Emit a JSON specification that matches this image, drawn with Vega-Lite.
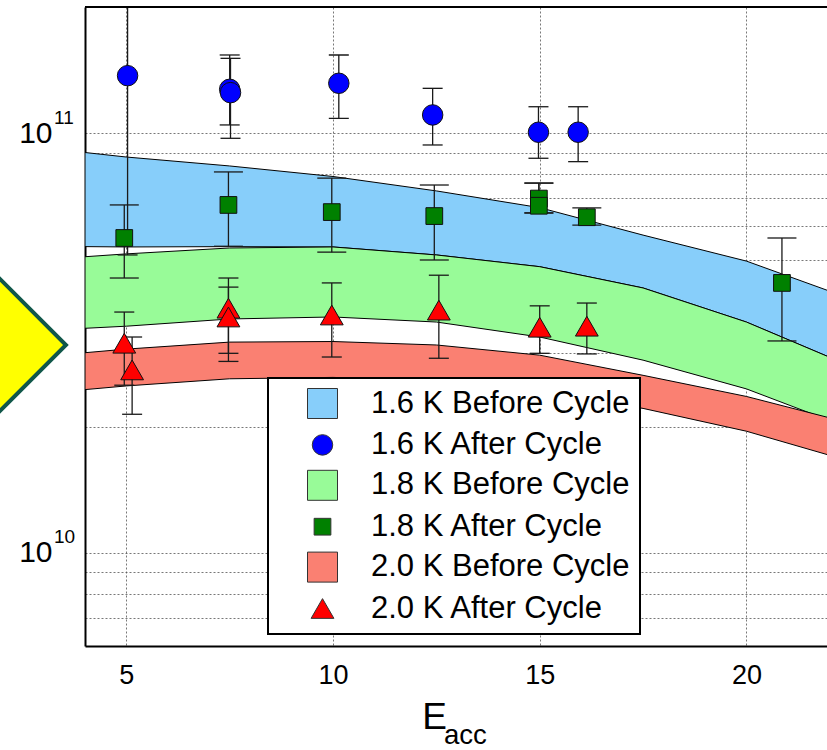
{
  "$schema": "https://vega.github.io/schema/vega-lite/v6.json",
  "width": 742,
  "height": 639,
  "autosize": "none",
  "padding": {"left": 85, "top": 7, "right": 0, "bottom": 104},
  "background": "white",
  "config": {
    "font": "Liberation Sans",
    "view": {"stroke": null},
    "axis": {"zindex": 1, "gridColor": "#555555", "gridDash": [2, 2], "gridWidth": 0.8, "gridOpacity": 1, "domainColor": "black", "domainWidth": 2, "ticks": false, "labelColor": "black", "labelFont": "Liberation Sans", "labelOverlap": false, "labelFlush": false},
    "axisX": {"labelFontSize": 27, "labelPadding": 16},
    "axisY": {"labelFontSize": 30, "labelPadding": 33},
    "legend": {"padding": 10, "strokeColor": "black", "strokeWidth": 2, "fillColor": "white", "labelFont": "Liberation Sans", "labelFontSize": 31, "labelColor": "black", "labelLimit": 600, "rowPadding": 7.4, "symbolOffset": 29, "labelOffset": 33, "zindex": 2, "symbolStrokeColor": "#333333", "symbolStrokeWidth": 1, "symbolOpacity": 1}
  },
  "datasets": {
    "bands": [
      {"series": "1.6 K Before Cycle", "x": 4, "lo": 5.37e10, "hi": 9.00e10},
      {"series": "1.6 K Before Cycle", "x": 5, "lo": 5.36e10, "hi": 8.78e10},
      {"series": "1.6 K Before Cycle", "x": 7.5, "lo": 5.37e10, "hi": 8.36e10},
      {"series": "1.6 K Before Cycle", "x": 10, "lo": 5.36e10, "hi": 7.89e10},
      {"series": "1.6 K Before Cycle", "x": 12.5, "lo": 5.13e10, "hi": 7.29e10},
      {"series": "1.6 K Before Cycle", "x": 15, "lo": 4.81e10, "hi": 6.65e10},
      {"series": "1.6 K Before Cycle", "x": 17.5, "lo": 4.28e10, "hi": 5.72e10},
      {"series": "1.6 K Before Cycle", "x": 20, "lo": 3.55e10, "hi": 4.96e10},
      {"series": "1.6 K Before Cycle", "x": 22, "lo": 2.93e10, "hi": 4.21e10},
      {"series": "1.8 K Before Cycle", "x": 4, "lo": 3.43e10, "hi": 5.08e10},
      {"series": "1.8 K Before Cycle", "x": 5, "lo": 3.47e10, "hi": 5.16e10},
      {"series": "1.8 K Before Cycle", "x": 7.5, "lo": 3.61e10, "hi": 5.33e10},
      {"series": "1.8 K Before Cycle", "x": 10, "lo": 3.65e10, "hi": 5.36e10},
      {"series": "1.8 K Before Cycle", "x": 12.5, "lo": 3.55e10, "hi": 5.13e10},
      {"series": "1.8 K Before Cycle", "x": 15, "lo": 3.27e10, "hi": 4.81e10},
      {"series": "1.8 K Before Cycle", "x": 17.5, "lo": 2.88e10, "hi": 4.28e10},
      {"series": "1.8 K Before Cycle", "x": 20, "lo": 2.46e10, "hi": 3.55e10},
      {"series": "1.8 K Before Cycle", "x": 22, "lo": 2.07e10, "hi": 2.93e10},
      {"series": "2.0 K Before Cycle", "x": 4, "lo": 2.45e10, "hi": 3.00e10},
      {"series": "2.0 K Before Cycle", "x": 5, "lo": 2.50e10, "hi": 3.06e10},
      {"series": "2.0 K Before Cycle", "x": 7.5, "lo": 2.60e10, "hi": 3.18e10},
      {"series": "2.0 K Before Cycle", "x": 10, "lo": 2.62e10, "hi": 3.19e10},
      {"series": "2.0 K Before Cycle", "x": 12.5, "lo": 2.57e10, "hi": 3.13e10},
      {"series": "2.0 K Before Cycle", "x": 15, "lo": 2.42e10, "hi": 2.96e10},
      {"series": "2.0 K Before Cycle", "x": 17.5, "lo": 2.21e10, "hi": 2.65e10},
      {"series": "2.0 K Before Cycle", "x": 20, "lo": 1.95e10, "hi": 2.36e10},
      {"series": "2.0 K Before Cycle", "x": 22, "lo": 1.71e10, "hi": 2.10e10}
    ],
    "pts": [
      {"series": "1.6 K After Cycle", "x": 5.03, "y": 1.372e11, "lo": 5.13e10, "hi": 2.23e11},
      {"series": "1.6 K After Cycle", "x": 7.5, "y": 1.273e11, "lo": 1.047e11, "hi": 1.537e11},
      {"series": "1.6 K After Cycle", "x": 7.52, "y": 1.25e11, "lo": 9.73e10, "hi": 1.509e11},
      {"series": "1.6 K After Cycle", "x": 10.14, "y": 1.316e11, "lo": 1.086e11, "hi": 1.537e11},
      {"series": "1.6 K After Cycle", "x": 12.41, "y": 1.106e11, "lo": 9.38e10, "hi": 1.28e11},
      {"series": "1.6 K After Cycle", "x": 14.97, "y": 1.006e11, "lo": 8.72e10, "hi": 1.157e11},
      {"series": "1.6 K After Cycle", "x": 15.93, "y": 1.006e11, "lo": 8.56e10, "hi": 1.157e11},
      {"series": "1.8 K After Cycle", "x": 4.95, "y": 5.63e10, "lo": 4.52e10, "hi": 6.75e10},
      {"series": "1.8 K After Cycle", "x": 7.47, "y": 6.75e10, "lo": 5.38e10, "hi": 8.09e10},
      {"series": "1.8 K After Cycle", "x": 9.97, "y": 6.49e10, "lo": 5.21e10, "hi": 7.82e10},
      {"series": "1.8 K After Cycle", "x": 12.45, "y": 6.35e10, "lo": 4.99e10, "hi": 7.53e10},
      {"series": "1.8 K After Cycle", "x": 14.98, "y": 6.99e10, "lo": 6.46e10, "hi": 7.61e10},
      {"series": "1.8 K After Cycle", "x": 14.98, "y": 6.72e10, "lo": 6.46e10, "hi": 7.61e10},
      {"series": "1.8 K After Cycle", "x": 16.14, "y": 6.31e10, "lo": 6.04e10, "hi": 6.64e10},
      {"series": "1.8 K After Cycle", "x": 20.86, "y": 4.40e10, "lo": 3.20e10, "hi": 5.63e10},
      {"series": "2.0 K After Cycle", "x": 4.95, "y": 3.16e10, "lo": 2.51e10, "hi": 3.75e10},
      {"series": "2.0 K After Cycle", "x": 5.14, "y": 2.73e10, "lo": 2.14e10, "hi": 3.27e10},
      {"series": "2.0 K After Cycle", "x": 7.47, "y": 3.83e10, "lo": 2.99e10, "hi": 4.52e10},
      {"series": "2.0 K After Cycle", "x": 7.47, "y": 3.65e10, "lo": 2.86e10, "hi": 4.30e10},
      {"series": "2.0 K After Cycle", "x": 9.97, "y": 3.69e10, "lo": 2.93e10, "hi": 4.40e10},
      {"series": "2.0 K After Cycle", "x": 12.56, "y": 3.79e10, "lo": 2.91e10, "hi": 4.59e10},
      {"series": "2.0 K After Cycle", "x": 15.0, "y": 3.45e10, "lo": 2.99e10, "hi": 3.88e10},
      {"series": "2.0 K After Cycle", "x": 16.14, "y": 3.47e10, "lo": 2.98e10, "hi": 3.94e10}
    ],
    "expo": [
      {"v": 1e10, "t": "10"},
      {"v": 1e11, "t": "11"}
    ],
    "deco": [
      {"x": 1.12, "y": 3.13e10}
    ]
  },
  "layer": [
    {
      "data": {"name": "bands"},
      "mark": {"type": "area", "stroke": "black", "strokeWidth": 1, "opacity": 1, "clip": true},
      "encoding": {
        "x": {"field": "x", "type": "quantitative", "scale": {"domain": [4, 21.95], "nice": false, "zero": false},
          "axis": {"values": [5, 10, 15, 20], "grid": true,
            "title": "E", "titleFont": "Liberation Sans", "titleFontSize": 37, "titleFontWeight": "normal", "titleColor": "black",
            "titleAlign": "left", "titleBaseline": "alphabetic", "titleX": 336.7, "titleY": 82.6}},
        "y": {"field": "lo", "type": "quantitative", "scale": {"type": "log", "domain": [6e9, 2e11], "nice": false},
          "axis": {"values": [7e9, 8e9, 9e9, 1e10, 2e10, 3e10, 4e10, 5e10, 6e10, 7e10, 8e10, 9e10, 1e11],
            "labelExpr": "datum.value == 1e10 || datum.value == 1e11 ? '10' : ''",
            "title": null, "grid": true}},
        "y2": {"field": "hi"},
        "fill": {"field": "series", "type": "nominal",
          "scale": {"domain": ["1.6 K Before Cycle", "1.6 K After Cycle", "1.8 K Before Cycle", "1.8 K After Cycle", "2.0 K Before Cycle", "2.0 K After Cycle"],
            "range": ["#87CEFA", "#0000FF", "#98FB98", "#008000", "#FA8072", "#FF0000"]},
          "legend": {"orient": "none", "legendX": 183, "legendY": 371, "title": null,
            "encode": {"symbols": {"update": {"stroke": {"value": "#333333"}, "strokeWidth": {"value": 1}}}}}}
      }
    },
    {
      "data": {"name": "pts"},
      "mark": {"type": "rule", "color": "#1a1a1a", "strokeWidth": 1.3, "clip": true},
      "encoding": {
        "x": {"field": "x", "type": "quantitative", "scale": {"domain": [4, 21.95], "nice": false, "zero": false}},
        "y": {"field": "lo", "type": "quantitative", "scale": {"type": "log", "domain": [6e9, 2e11], "nice": false}},
        "y2": {"field": "hi"}
      }
    },
    {
      "data": {"name": "pts"},
      "transform": [{"fold": ["lo", "hi"], "as": ["bound", "yb"]}],
      "mark": {"type": "tick", "orient": "horizontal", "color": "#1a1a1a", "thickness": 1.3, "opacity": 1, "clip": true},
      "encoding": {
        "x": {"field": "x", "type": "quantitative", "scale": {"domain": [4, 21.95], "nice": false, "zero": false}},
        "y": {"field": "yb", "type": "quantitative", "scale": {"type": "log", "domain": [6e9, 2e11], "nice": false}},
        "size": {"condition": {"test": "datum.series == '1.8 K After Cycle'", "value": 29}, "value": 20}
      }
    },
    {
      "data": {"name": "pts"},
      "mark": {"type": "point", "filled": true, "stroke": "#111111", "strokeWidth": 1, "opacity": 1, "clip": true},
      "encoding": {
        "x": {"field": "x", "type": "quantitative", "scale": {"domain": [4, 21.95], "nice": false, "zero": false}},
        "y": {"field": "y", "type": "quantitative", "scale": {"type": "log", "domain": [6e9, 2e11], "nice": false}},
        "fill": {"field": "series", "type": "nominal",
          "scale": {"domain": ["1.6 K Before Cycle", "1.6 K After Cycle", "1.8 K Before Cycle", "1.8 K After Cycle", "2.0 K Before Cycle", "2.0 K After Cycle"],
            "range": ["#87CEFA", "#0000FF", "#98FB98", "#008000", "#FA8072", "#FF0000"]},
          "legend": {"orient": "none", "legendX": 183, "legendY": 371, "title": null,
            "encode": {"symbols": {"update": {"stroke": {"value": "#333333"}, "strokeWidth": {"value": 1}}}}}},
        "shape": {"field": "series", "type": "nominal",
          "scale": {"domain": ["1.6 K Before Cycle", "1.6 K After Cycle", "1.8 K Before Cycle", "1.8 K After Cycle", "2.0 K Before Cycle", "2.0 K After Cycle"],
            "range": ["square", "circle", "square", "square", "square", "triangle-up"]},
          "legend": {"orient": "none", "legendX": 183, "legendY": 371, "title": null,
            "encode": {"symbols": {"update": {"stroke": {"value": "#333333"}, "strokeWidth": {"value": 1}}}}}},
        "size": {"field": "series", "type": "nominal",
          "scale": {"type": "ordinal", "domain": ["1.6 K Before Cycle", "1.6 K After Cycle", "1.8 K Before Cycle", "1.8 K After Cycle", "2.0 K Before Cycle", "2.0 K After Cycle"],
            "range": [900, 420, 900, 280, 900, 520]},
          "legend": {"orient": "none", "legendX": 183, "legendY": 371, "title": null,
            "encode": {"symbols": {"update": {"stroke": {"value": "#333333"}, "strokeWidth": {"value": 1}}}}}}
      }
    },
    {
      "data": {"values": [{}]},
      "mark": {"type": "rule", "color": "black", "strokeWidth": 2},
      "encoding": {
        "y": {"datum": 2e11, "type": "quantitative", "scale": {"type": "log", "domain": [6e9, 2e11], "nice": false}}
      }
    },
    {
      "data": {"name": "expo"},
      "mark": {"type": "text", "align": "left", "baseline": "alphabetic", "dx": -31, "dy": -9.5, "fontSize": 19, "font": "Liberation Sans", "color": "black"},
      "encoding": {
        "x": {"datum": 4, "type": "quantitative", "scale": {"domain": [4, 21.95], "nice": false, "zero": false}},
        "y": {"field": "v", "type": "quantitative", "scale": {"type": "log", "domain": [6e9, 2e11], "nice": false}},
        "text": {"field": "t"}
      }
    },
    {
      "data": {"values": [{"t": "acc"}]},
      "mark": {"type": "text", "align": "left", "baseline": "alphabetic", "dy": 97.5, "fontSize": 27.6, "font": "Liberation Sans", "color": "black"},
      "encoding": {
        "x": {"datum": 12.684, "type": "quantitative", "scale": {"domain": [4, 21.95], "nice": false, "zero": false}},
        "y": {"datum": 6e9, "type": "quantitative", "scale": {"type": "log", "domain": [6e9, 2e11], "nice": false}},
        "text": {"field": "t"}
      }
    },
    {
      "data": {"name": "deco"},
      "mark": {"type": "point", "shape": "diamond", "size": 40000, "filled": true, "fill": "#FFFF00", "stroke": "#11574A", "strokeWidth": 4, "opacity": 1},
      "encoding": {
        "x": {"field": "x", "type": "quantitative", "scale": {"domain": [4, 21.95], "nice": false, "zero": false}},
        "y": {"field": "y", "type": "quantitative", "scale": {"type": "log", "domain": [6e9, 2e11], "nice": false}}
      }
    }
  ]
}
